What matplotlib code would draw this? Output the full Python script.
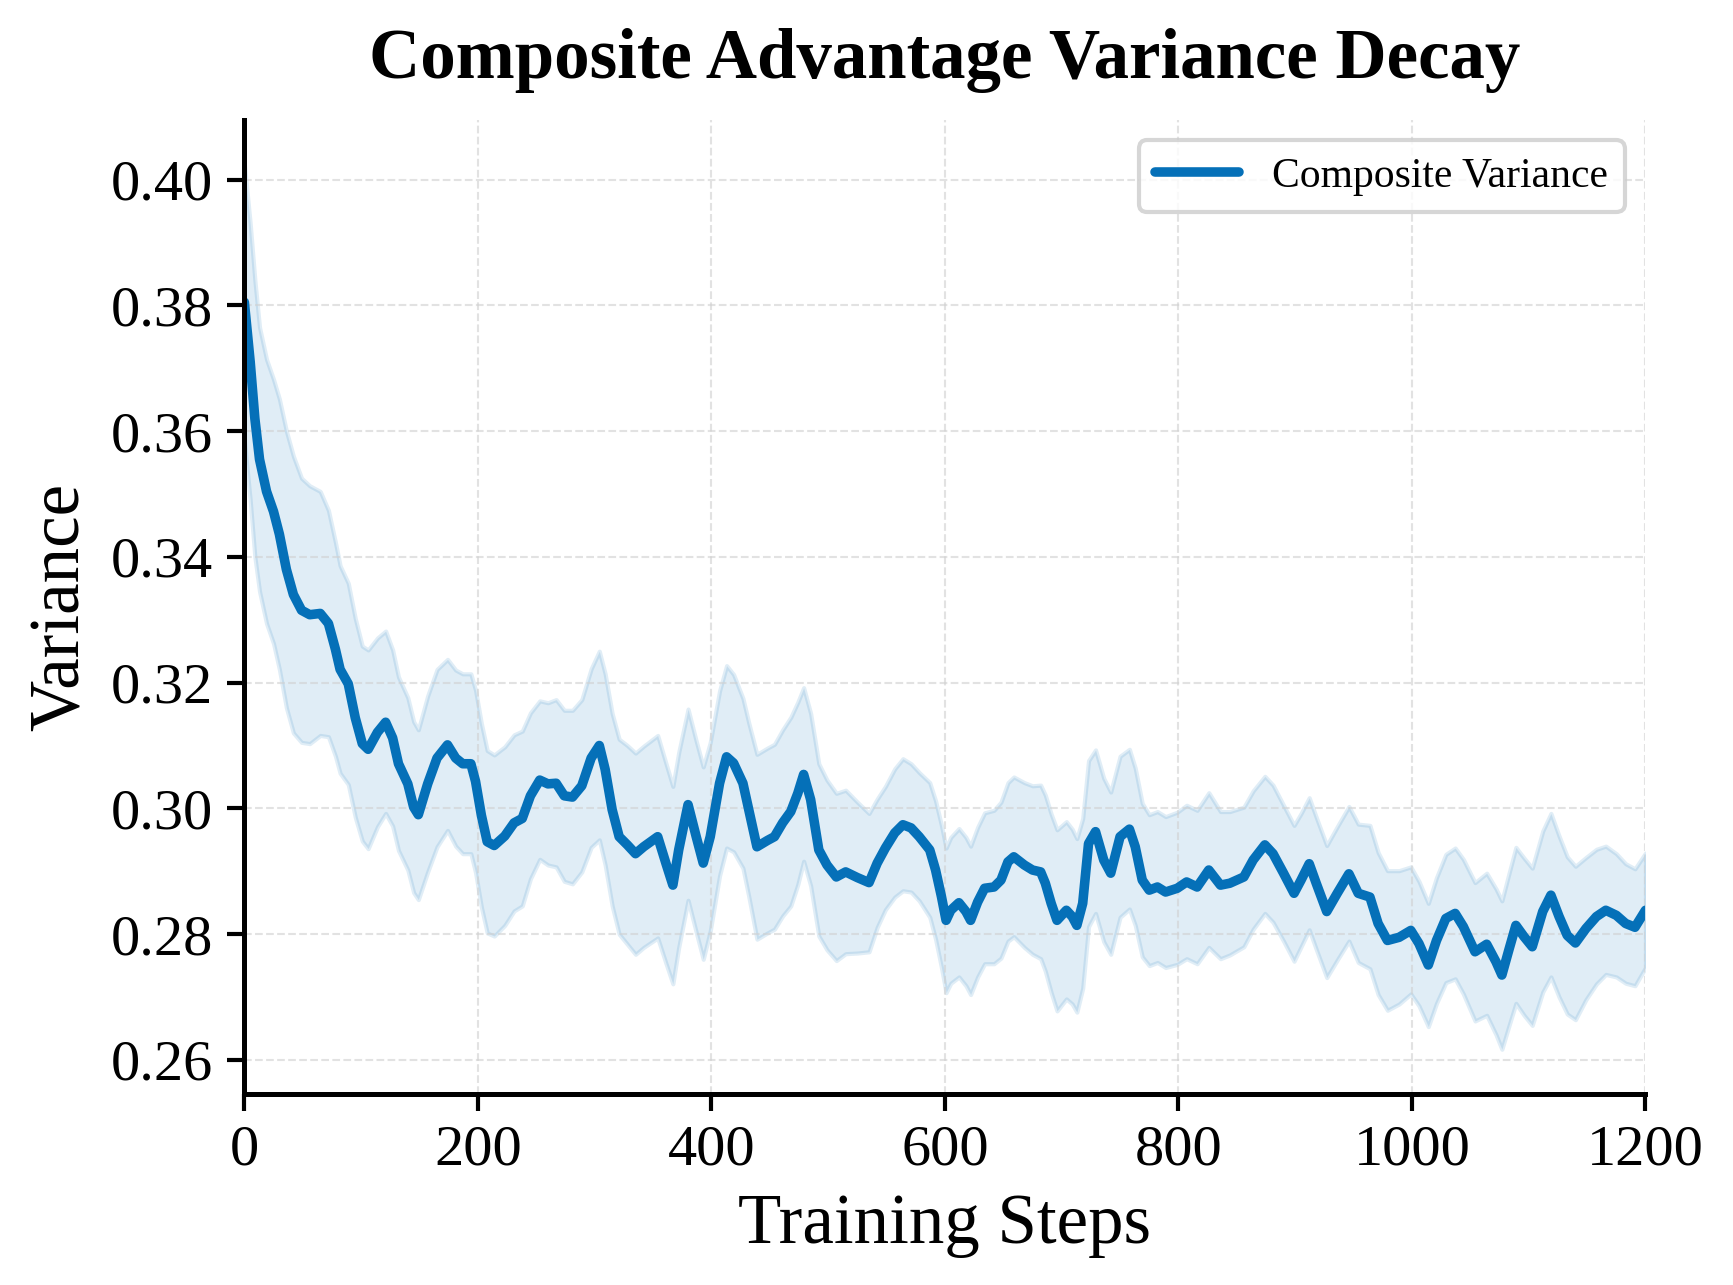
import numpy as np
import matplotlib
matplotlib.use("Agg")
import matplotlib.pyplot as plt

# values
steps = [0, 5, 9, 13, 19, 25, 30, 36, 42, 49,
         56, 65, 72, 78, 82, 89, 95, 101, 106, 114,
         121, 127, 132, 140, 145, 149, 157, 165, 174, 181,
         187, 194, 198, 203, 208, 214, 223, 231, 238, 245,
         253, 260, 267, 274, 281, 289, 297, 304, 309, 315,
         321, 328, 335, 342, 354, 361, 367, 372, 380, 387,
         393, 399, 407, 413, 419, 427, 432, 439, 448, 454,
         461, 468, 474, 479, 485, 492, 499, 507, 515, 525,
         535, 542, 549, 557, 564, 571, 578, 587, 592, 597,
         601, 605, 612, 618, 622, 628, 634, 642, 648, 654,
         659, 668, 675, 682, 686, 691, 696, 704, 709, 713,
         718, 723, 729, 736, 742, 750, 758, 763, 769, 775,
         782, 789, 799, 807, 816, 826, 836, 844, 856, 864,
         874, 881, 890, 899, 905, 912, 918, 927, 936, 946,
         954, 964, 971, 979, 989, 999, 1006, 1014, 1021, 1029,
         1037, 1044, 1054, 1064, 1072, 1077, 1083, 1089, 1096, 1103,
         1112, 1119, 1126, 1133, 1140, 1149, 1158, 1166, 1175, 1183,
         1191, 1200]

variance = [0.3805, 0.3710, 0.3620, 0.3555, 0.3504, 0.3472, 0.3436, 0.3380, 0.3340, 0.3315,
            0.3308, 0.3310, 0.3294, 0.3253, 0.3221, 0.3198, 0.3144, 0.3103, 0.3094, 0.3121,
            0.3137, 0.3112, 0.3071, 0.3039, 0.3002, 0.2990, 0.3039, 0.3080, 0.3101, 0.3080,
            0.3071, 0.3071, 0.3043, 0.2989, 0.2947, 0.2941, 0.2956, 0.2977, 0.2984, 0.3020,
            0.3045, 0.3039, 0.3040, 0.3020, 0.3018, 0.3036, 0.3080, 0.3100, 0.3062, 0.2998,
            0.2955, 0.2942, 0.2928, 0.2939, 0.2955, 0.2913, 0.2878, 0.2934, 0.3006, 0.2955,
            0.2913, 0.2955, 0.3040, 0.3082, 0.3072, 0.3040, 0.2998, 0.2939, 0.2949, 0.2955,
            0.2977, 0.2995, 0.3024, 0.3054, 0.3014, 0.2934, 0.2910, 0.2891, 0.2899, 0.2890,
            0.2882, 0.2913, 0.2937, 0.2961, 0.2974, 0.2969, 0.2955, 0.2934, 0.2902, 0.2860,
            0.2822, 0.2838, 0.2850, 0.2836, 0.2822, 0.2851, 0.2873, 0.2875, 0.2886, 0.2915,
            0.2923, 0.2910, 0.2902, 0.2899, 0.2881, 0.2849, 0.2822, 0.2838, 0.2828, 0.2814,
            0.2849, 0.2944, 0.2963, 0.2918, 0.2897, 0.2955, 0.2967, 0.2939, 0.2886, 0.2870,
            0.2875, 0.2867, 0.2873, 0.2883, 0.2875, 0.2902, 0.2878, 0.2881, 0.2891, 0.2918,
            0.2942, 0.2928, 0.2897, 0.2865, 0.2886, 0.2912, 0.2881, 0.2836, 0.2865, 0.2896,
            0.2865, 0.2859, 0.2817, 0.2790, 0.2795, 0.2806, 0.2785, 0.2751, 0.2790, 0.2825,
            0.2833, 0.2812, 0.2772, 0.2784, 0.2756, 0.2735, 0.2775, 0.2814, 0.2796, 0.2780,
            0.2836, 0.2862, 0.2828, 0.2798, 0.2786, 0.2809, 0.2828, 0.2838, 0.2830, 0.2817,
            0.2811, 0.2838]

spread = [0.0220, 0.0220, 0.0220, 0.0210, 0.0210, 0.0210, 0.0215, 0.0220, 0.0220, 0.0210,
          0.0205, 0.0194, 0.0180, 0.0170, 0.0165, 0.0160, 0.0158, 0.0155, 0.0158, 0.0150,
          0.0145, 0.0140, 0.0138, 0.0137, 0.0136, 0.0135, 0.0140, 0.0141, 0.0136, 0.0140,
          0.0143, 0.0143, 0.0145, 0.0146, 0.0145, 0.0144, 0.0142, 0.0140, 0.0139, 0.0132,
          0.0126, 0.0129, 0.0133, 0.0136, 0.0138, 0.0137, 0.0142, 0.0150, 0.0152, 0.0153,
          0.0155, 0.0158, 0.0160, 0.0160, 0.0161, 0.0159, 0.0157, 0.0155, 0.0152, 0.0152,
          0.0153, 0.0150, 0.0147, 0.0145, 0.0141, 0.0135, 0.0138, 0.0147, 0.0147, 0.0147,
          0.0148, 0.0150, 0.0145, 0.0138, 0.0137, 0.0137, 0.0135, 0.0133, 0.0130, 0.0120,
          0.0110, 0.0102, 0.0098, 0.0102, 0.0105, 0.0102, 0.0102, 0.0107, 0.0110, 0.0113,
          0.0115, 0.0116, 0.0118, 0.0118, 0.0118, 0.0119, 0.0120, 0.0122, 0.0124, 0.0126,
          0.0127, 0.0131, 0.0134, 0.0138, 0.0140, 0.0142, 0.0144, 0.0141, 0.0139, 0.0138,
          0.0135, 0.0132, 0.0130, 0.0130, 0.0129, 0.0128, 0.0127, 0.0125, 0.0122, 0.0120,
          0.0120, 0.0120, 0.0121, 0.0122, 0.0122, 0.0123, 0.0117, 0.0114, 0.0111, 0.0110,
          0.0109, 0.0109, 0.0108, 0.0108, 0.0106, 0.0105, 0.0105, 0.0105, 0.0106, 0.0107,
          0.0110, 0.0114, 0.0113, 0.0111, 0.0106, 0.0101, 0.0099, 0.0098, 0.0100, 0.0102,
          0.0104, 0.0107, 0.0110, 0.0113, 0.0116, 0.0118, 0.0121, 0.0124, 0.0125, 0.0125,
          0.0128, 0.0130, 0.0128, 0.0125, 0.0122, 0.0113, 0.0107, 0.0102, 0.0098, 0.0095,
          0.0093, 0.0091]

x = np.array(steps)
y = np.array(variance)
sd = np.array(spread)

plt.rcParams['font.family'] = ['Liberation Serif', 'DejaVu Serif']

color = '#0570b8'

fig = plt.figure(figsize=(1733 / 300, 1285 / 300), dpi=300)
ax = fig.add_axes([0.141, 0.149, 0.8085, 0.758])

ax.fill_between(x, y - sd, y + sd, color=color, alpha=0.12, linewidth=1.0)
ax.plot(x, y, color=color, lw=2.3, label='Composite Variance',
        solid_joinstyle='round', solid_capstyle='round')

ax.set_xlim(0, 1200)
ax.set_xticks([0, 200, 400, 600, 800, 1000, 1200])
ax.set_yticks([0.26, 0.28, 0.30, 0.32, 0.34, 0.36, 0.38, 0.40])
ax.set_yticklabels([f"{v:.2f}" for v in ax.get_yticks()])

ax.set_title("Composite Advantage Variance Decay", fontsize=17, fontweight='bold', pad=10)
ax.set_xlabel("Training Steps", fontsize=17, labelpad=4)
ax.set_ylabel("Variance", fontsize=17, labelpad=4)
ax.tick_params(axis='both', labelsize=14, width=1.0, length=4)

ax.grid(True, linestyle='--', color='#d0d0d0', alpha=0.6, linewidth=0.5)
ax.spines['top'].set_visible(False)
ax.spines['right'].set_visible(False)
ax.spines['left'].set_linewidth(1.2)
ax.spines['bottom'].set_linewidth(1.2)

leg = ax.legend(loc='upper right', fontsize=10, frameon=True, fancybox=True)
leg.get_frame().set_edgecolor('#cccccc')
leg.get_frame().set_linewidth(1.0)

fig.savefig("out.png", dpi=300)
